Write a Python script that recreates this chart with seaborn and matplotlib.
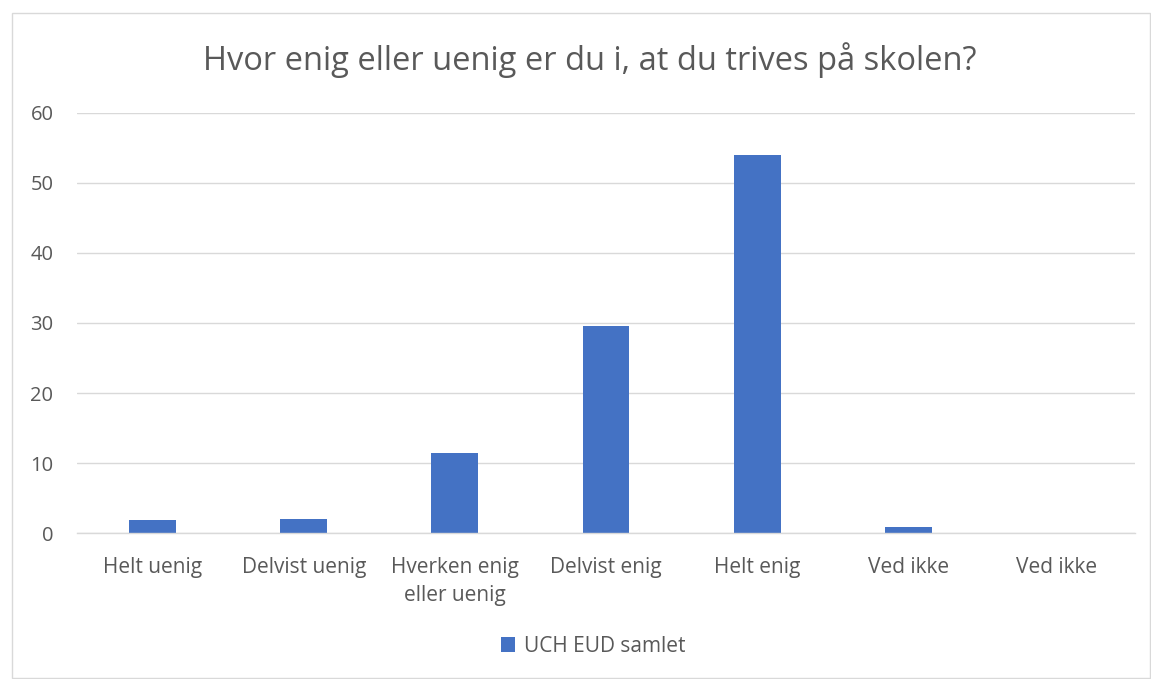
import matplotlib
matplotlib.use("Agg")
import matplotlib.pyplot as plt
import seaborn as sns
import pandas as pd
from matplotlib.patches import Rectangle, Patch

categories = ["Helt uenig", "Delvist uenig", "Hverken enig\neller uenig", "Delvist enig",
              "Helt enig", "Ved ikke", "Ved ikke "]
values = [1.9, 2.1, 11.5, 29.6, 53.9, 0.9, 0.0]
series_name = "UCH EUD samlet"
yticks = [0, 10, 20, 30, 40, 50, 60]
title = "Hvor enig eller uenig er du i, at du trives på skolen?"

sns.set_style("white")
plt.rcParams['font.family'] = ['Open Sans', 'DejaVu Sans']

df = pd.DataFrame({"cat": categories, "val": values})

fig = plt.figure(figsize=(11.51, 6.79), dpi=100)
ax = fig.add_axes([77/1151, 1-533.3/679, (1135-77)/1151, (533.3-112.7)/679])

text_color = "#595959"
bar_color = "#4472C4"

sns.barplot(data=df, x="cat", y="val", color=bar_color, width=0.31, ax=ax,
            saturation=1, edgecolor="none")

ax.set_ylim(0, 60)
ax.set_xlim(-0.5, len(categories) - 0.5)
ax.set_yticks(yticks)
ax.yaxis.grid(True, color="#D9D9D9", linewidth=1)
ax.set_axisbelow(True)
for s in ["top", "right", "left"]:
    ax.spines[s].set_visible(False)
ax.spines["bottom"].set_color("#D9D9D9")
ax.spines["bottom"].set_linewidth(1)
ax.tick_params(axis="both", length=0, colors=text_color)
ax.tick_params(axis="x", pad=17, labelsize=15)
ax.tick_params(axis="y", pad=17, labelsize=14.5)
for lab in ax.get_xticklabels():
    lab.set_linespacing(1.45)
ax.set_xlabel("")
ax.set_ylabel("")

fig.text(590/1151, 1 - 60/679, title, ha="center", va="center", fontsize=23.5, color=text_color)

handles = [Patch(facecolor=bar_color, edgecolor="none", label=series_name)]
fig.legend(handles=handles, loc="center", bbox_to_anchor=(593/1151, 1 - 646/679), frameon=False,
           fontsize=15, labelcolor=text_color, handlelength=0.7, handleheight=0.7,
           handletextpad=0.4)

fig.patches.append(Rectangle((12/1151, 1 - 678/679), (1150-12)/1151, (678-13)/679,
                             transform=fig.transFigure, fill=False, edgecolor="#D9D9D9",
                             linewidth=1))

fig.savefig("out.png", dpi=100)
